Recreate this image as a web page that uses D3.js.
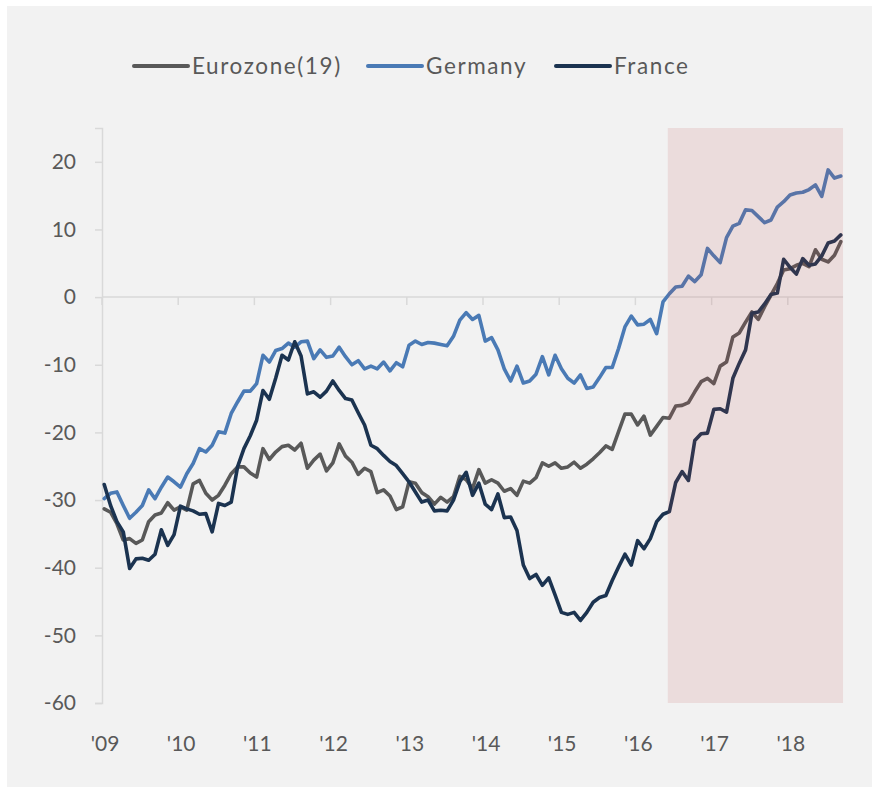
<!DOCTYPE html>
<html>
<head>
<meta charset="utf-8">
<script src="https://cdn.jsdelivr.net/npm/d3@7"></script>
<style>
  html, body { margin: 0; padding: 0; background: #ffffff; }
  svg { display: block; }
  text { font-family: Lato, "Noto Sans", sans-serif; fill: #595959; }
</style>
</head>
<body>
<svg id="chart" width="872" height="787"></svg>
<script>
// ---- data (monthly, Jan 2009 .. Sep 2018) ----
const seriesNames = ["Eurozone(19)", "Germany", "France"];
const seriesColors = ["#595959", "#4a7ab5", "#1b3350"];

const eurozone = [
  -31.3,-31.8,-33.5,-35.9,-35.7,-36.4,-35.9,-33.2,-32.2,-31.9,-30.4,-31.5,
  -31.0,-31.5,-27.6,-27.1,-29.0,-30.0,-29.3,-27.8,-26.1,-25.1,-25.1,-26.0,
  -26.6,-22.4,-24.0,-22.9,-22.1,-21.9,-22.6,-21.6,-25.3,-24.1,-23.2,-25.7,
  -24.5,-21.7,-23.5,-24.4,-26.2,-25.3,-25.8,-28.9,-28.5,-29.4,-31.4,-31.0,
  -27.3,-27.5,-28.9,-29.5,-30.6,-29.6,-30.3,-29.5,-26.5,-27.0,-28.3,-25.5,
  -27.5,-27.0,-27.5,-28.7,-28.3,-29.3,-27.2,-27.5,-26.7,-24.5,-25.0,-24.5,
  -25.3,-25.1,-24.4,-25.3,-24.7,-23.9,-23.0,-22.0,-22.5,-19.9,-17.3,-17.3,
  -18.9,-17.6,-20.4,-19.1,-17.8,-17.9,-16.1,-16.0,-15.6,-14.0,-12.5,-12.0,
  -12.8,-10.2,-9.6,-5.9,-5.3,-3.7,-2.2,-3.3,-1.4,0.3,2.0,4.0,
  4.2,4.7,5.0,4.5,7.0,5.6,5.2,6.2,8.2
];
const germany = [
  -29.8,-29.0,-28.8,-30.8,-32.7,-31.8,-30.8,-28.5,-29.8,-28.1,-26.6,-27.3,
  -28.1,-26.1,-24.6,-22.4,-22.9,-21.9,-19.9,-20.1,-17.2,-15.5,-13.9,-13.9,
  -12.8,-8.6,-9.6,-7.9,-7.6,-6.8,-7.4,-6.6,-6.5,-9.1,-7.8,-8.9,
  -8.7,-7.4,-8.8,-10.0,-9.4,-10.6,-10.2,-10.6,-9.6,-10.9,-9.7,-10.3,
  -7.1,-6.5,-7.0,-6.7,-6.8,-7.0,-7.2,-5.8,-3.4,-2.3,-3.3,-2.7,
  -6.5,-6.0,-7.8,-10.6,-12.4,-10.2,-12.7,-12.4,-11.4,-8.8,-11.5,-8.6,
  -10.6,-12.0,-12.7,-11.5,-13.5,-13.3,-11.9,-10.4,-10.4,-7.6,-4.4,-2.8,
  -4.1,-4.0,-3.3,-5.4,-0.7,0.5,1.5,1.6,3.1,2.3,3.3,7.2,
  6.1,5.1,8.8,10.5,10.9,12.9,12.8,11.9,11.0,11.4,13.3,14.1,
  15.1,15.4,15.5,15.9,16.6,14.9,18.8,17.6,17.9
];
const france = [
  -27.7,-30.8,-33.2,-34.7,-40.1,-38.7,-38.6,-38.9,-38.0,-34.4,-36.7,-35.1,
  -30.9,-31.3,-31.6,-32.1,-32.0,-34.7,-30.5,-30.8,-30.3,-25.1,-22.4,-20.5,
  -18.2,-13.8,-15.1,-12.0,-8.6,-9.3,-6.6,-8.7,-14.3,-14.0,-14.8,-13.9,
  -12.4,-13.8,-15.0,-15.2,-17.1,-18.9,-21.9,-22.4,-23.4,-24.3,-24.9,-26.1,
  -27.3,-28.8,-30.3,-30.0,-31.6,-31.5,-31.6,-30.0,-27.3,-25.9,-29.3,-27.5,
  -30.6,-31.4,-29.1,-32.6,-32.5,-34.5,-39.6,-41.6,-41.0,-42.6,-41.5,-44.0,
  -46.6,-46.9,-46.6,-47.8,-46.6,-45.1,-44.4,-44.1,-41.9,-39.9,-38.0,-39.6,
  -36.0,-37.2,-35.7,-33.2,-32.1,-31.7,-27.4,-25.8,-27.1,-21.2,-20.2,-20.1,
  -16.6,-16.5,-17.0,-12.0,-9.8,-7.8,-2.4,-2.2,-1.0,0.4,0.6,5.6,
  4.4,3.4,5.7,4.7,4.9,6.1,8.0,8.3,9.2
];
const yearLabels = ["'09","'10","'11","'12","'13","'14","'15","'16","'17","'18"];
const yTicks = [-60,-50,-40,-30,-20,-10,0,10,20];
const shadeMonths = [89.1, 116.7];   // highlighted period (mid-2016 onwards), months since Jan 2009

// ---- layout ----
const svg = d3.select("#chart");
svg.append("rect").attr("x", 7).attr("y", 6).attr("width", 865).attr("height", 781).attr("fill", "#f2f2f2");

const x = d3.scaleLinear().domain([0, 120]).range([102, 102 + 6.35 * 120]);
const y = d3.scaleLinear().domain([-60, 25]).range([703, 128]);
const monthPos = i => i + 0.35;

// y axis
const yAxis = d3.axisLeft(y).tickValues(yTicks).tickSize(7).tickPadding(19).tickFormat(d => String(d));
const gy = svg.append("g").attr("transform", `translate(${x(0)},0)`).call(yAxis);
gy.select(".domain").attr("stroke", "#d9d9d9").attr("stroke-width", 1.5);
gy.selectAll(".tick line").attr("stroke", "#d9d9d9").attr("stroke-width", 1.5);
gy.selectAll(".tick text").style("font-size", "21px").style("fill", "#595959").attr("font-family", null);

// zero line with year ticks
const gx = svg.append("g").attr("transform", `translate(0,${y(0)})`);
gx.append("line").attr("x1", x(0)).attr("x2", x(shadeMonths[1])).attr("y1", 0).attr("y2", 0)
  .attr("stroke", "#d9d9d9").attr("stroke-width", 1.5);
gx.selectAll("line.yt").data(yearLabels).join("line").attr("class", "yt")
  .attr("x1", (d, k) => x(12 * k)).attr("x2", (d, k) => x(12 * k))
  .attr("y1", 0).attr("y2", 8).attr("stroke", "#d9d9d9").attr("stroke-width", 1.5);

// year labels at bottom
svg.append("g").selectAll("text").data(yearLabels).join("text")
  .attr("x", (d, k) => x(12 * k) + 3).attr("y", 751)
  .attr("text-anchor", "middle").style("font-size", "21px").text(d => d);

// series lines
const allSeries = [eurozone, germany, france];
const line = d3.line().x((d, i) => x(monthPos(i))).y(d => y(d)).curve(d3.curveLinear);
svg.append("g").selectAll("path").data(allSeries).join("path")
  .attr("d", d => line(d)).attr("fill", "none")
  .attr("stroke", (d, i) => seriesColors[i]).attr("stroke-width", 3.6)
  .attr("stroke-linejoin", "round").attr("stroke-linecap", "round");

// highlighted period overlay
svg.append("rect")
  .attr("x", x(shadeMonths[0])).attr("width", x(shadeMonths[1]) - x(shadeMonths[0]))
  .attr("y", y(25)).attr("height", y(-60) - y(25))
  .attr("fill", "#c0504d").attr("opacity", 0.13);

// legend
const legendX = [134, 368, 556];
const lg = svg.append("g").selectAll("g").data(seriesNames).join("g")
  .attr("transform", (d, i) => `translate(${legendX[i]},66)`);
lg.append("line").attr("x1", 0).attr("x2", 54).attr("y1", 0).attr("y2", 0)
  .attr("stroke", (d, i) => seriesColors[i]).attr("stroke-width", 4).attr("stroke-linecap", "round");
lg.append("text").attr("x", 58).attr("y", 8).style("font-size", "22.5px").style("letter-spacing", "1.6px").text(d => d);
</script>
</body>
</html>
